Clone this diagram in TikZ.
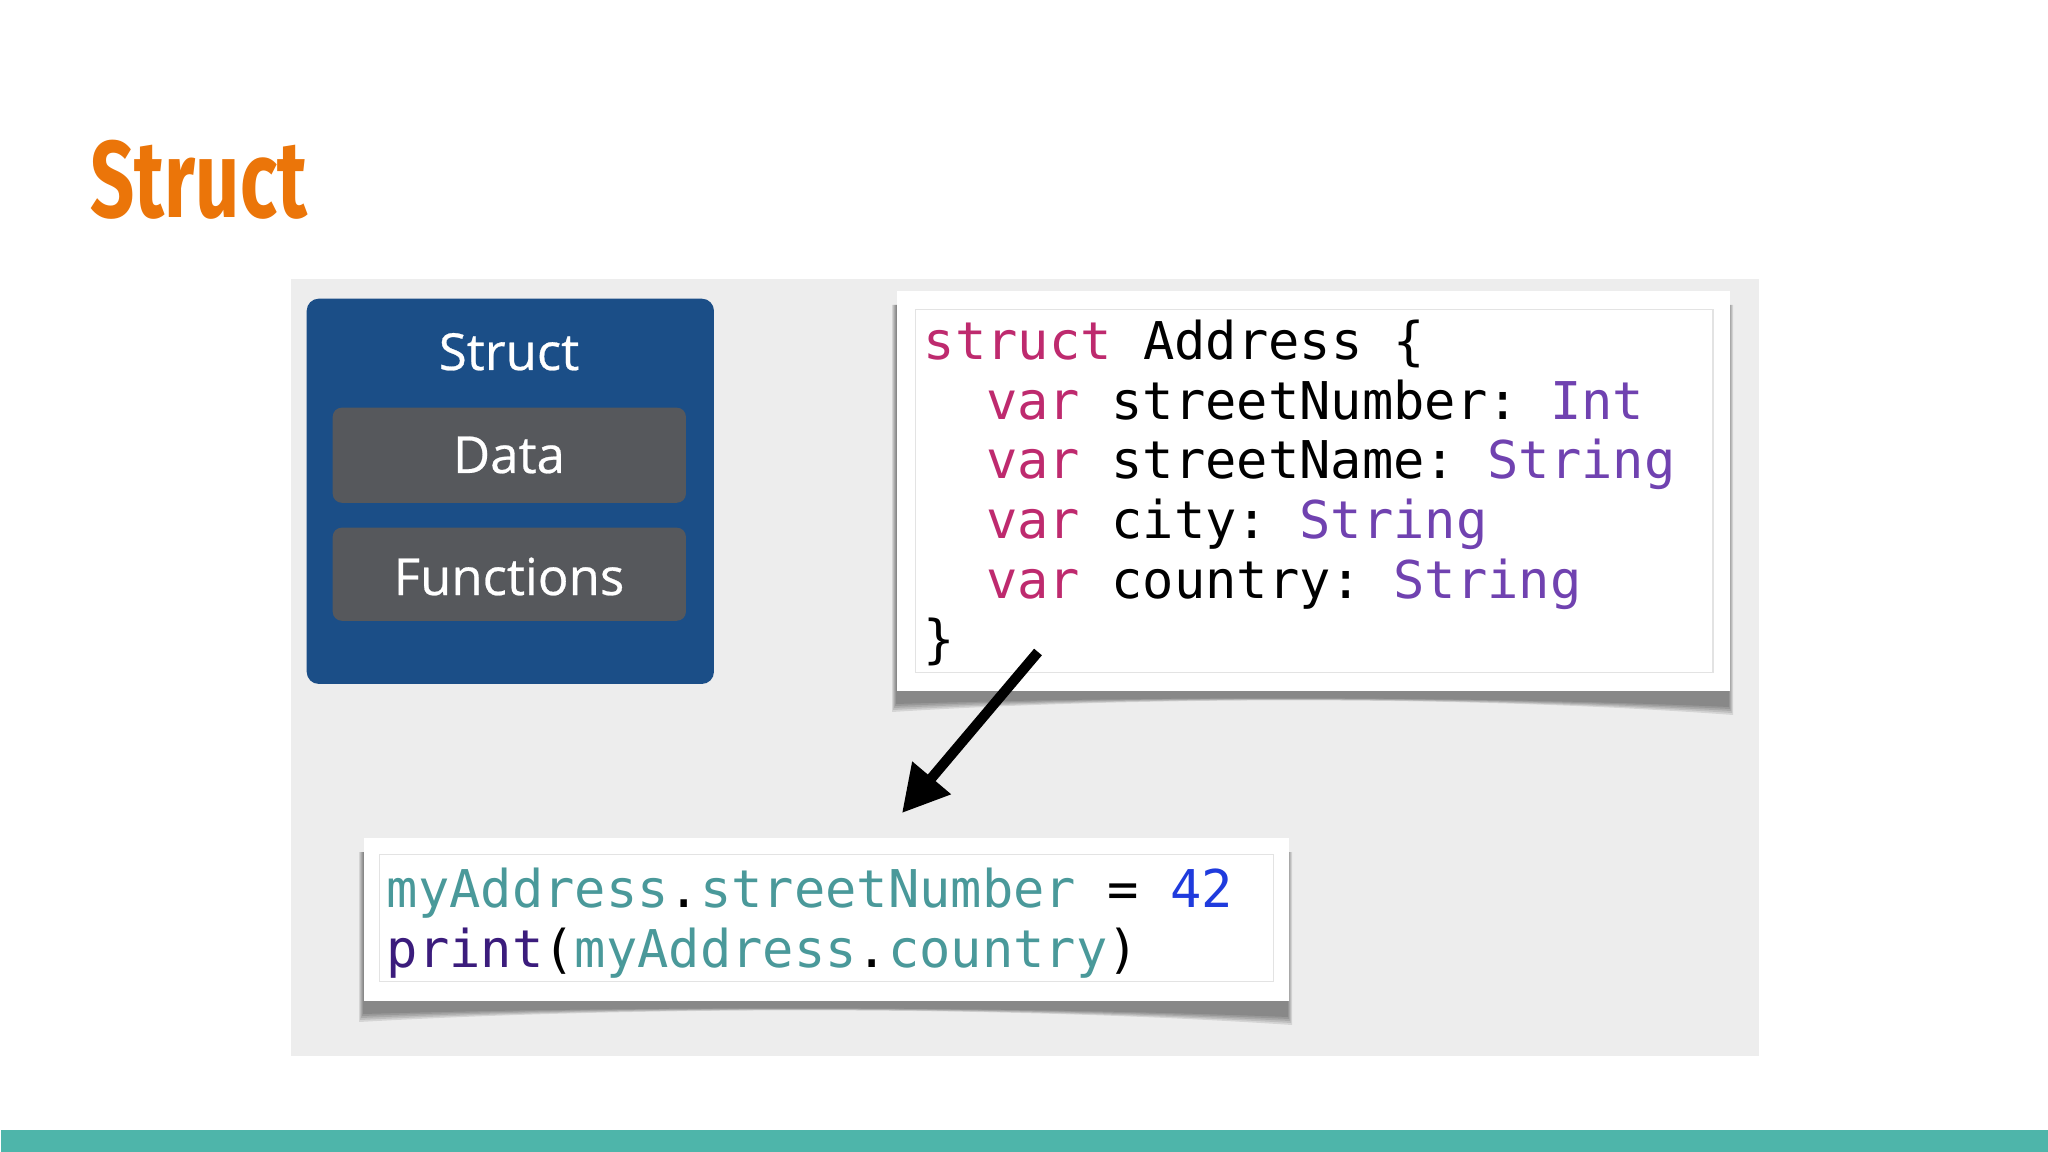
\documentclass[tikz,border=0pt]{standalone}
\usepackage{fontspec}
\usetikzlibrary{arrows.meta}
\frenchspacing
\newfontfamily\codefont{DejaVu Sans Mono}
\newfontfamily\boxfont[FakeBold=0.5]{Open Sans}
\newfontfamily\titlefont[FakeStretch=0.71]{Fira Sans}
\definecolor{titleorange}{HTML}{EB7509}
\definecolor{panelgray}{HTML}{EDEDED}
\definecolor{structblue}{HTML}{1B4E87}
\definecolor{slotgray}{HTML}{56585C}
\definecolor{kwpink}{HTML}{BE2A6E}
\definecolor{typepurple}{HTML}{7042B0}
\definecolor{idteal}{HTML}{4A999A}
\definecolor{numblue}{HTML}{1F3BDD}
\definecolor{fnpurple}{HTML}{3B1C7C}
\definecolor{bandteal}{HTML}{4EB5AA}
\definecolor{innerline}{HTML}{E3E3E3}
\newcommand\papershadow[4]{%
  \foreach \i in {0,1,2,3,4}{%
    \fill[black,opacity=0.10] ({#1-4+\i},{#2+15}) -- ({#1-4+\i},{#4+22-2*\i})
      .. controls ({#1+(#3-#1)*0.3},{#4+6}) and ({#1+(#3-#1)*0.7},{#4+6}) ..
      ({#3+4-\i},{#4+25-2*\i}) -- ({#3+4-\i},{#2+15}) -- cycle;}}
\tikzset{
  codeline/.style={anchor=base west, inner sep=0, font=\codefont\fontsize{14.8pt}{16.9pt}\selectfont},
  boxlabel/.style={anchor=base, inner sep=0, text=white, font=\boxfont\fontsize{14.5pt}{16pt}\selectfont},
  slot/.style={fill=slotgray, rounded corners=0.09cm, anchor=north west, inner sep=0},
  card/.style={fill=white, anchor=north west, inner sep=0},
  cardinner/.style={draw=innerline, line width=0.3pt, anchor=north west, inner sep=0},
  bigarrow/.style={line width=2.9pt, -{Triangle[length=0.46cm,width=0.48cm]}}
}
\begin{document}
\begin{tikzpicture}[x=0.01cm,y=-0.01cm]
\useasboundingbox (0,0) rectangle (2048,1152);
\fill[white] (0,0) rectangle (2048,1152);
% bottom band
\node[fill=bandteal, anchor=north west, inner sep=0, minimum width=20.48cm, minimum height=0.23cm] (band) at (0,1129) {};
% title
\node[anchor=base west, inner sep=0, text=titleorange, font=\titlefont\bfseries\fontsize{31pt}{31pt}\selectfont] (title) at (90,218) {Struct};
% panel
\node[fill=panelgray, anchor=north west, inner sep=0, minimum width=14.67cm, minimum height=7.77cm] (panel) at (290,278) {};
% struct box
\node[fill=structblue, rounded corners=0.12cm, anchor=north west, inner sep=0, minimum width=4.07cm, minimum height=3.85cm] (structbox) at (306,298) {};
\node[slot, minimum width=3.53cm, minimum height=0.95cm] (databox) at (332,407) {};
\node[slot, minimum width=3.53cm, minimum height=0.93cm] (funcbox) at (332,527) {};
\node[boxlabel] (structlabel) at (509,370) {Struct};
\node[boxlabel] (datalabel) at (509,473) {Data};
\node[boxlabel] (funclabel) at (509,595) {Functions};
% top card
\papershadow{896}{290}{1729}{690}
\node[card, minimum width=8.33cm, minimum height=4.00cm] (topcard) at (896,290) {};
\node[cardinner, minimum width=7.97cm, minimum height=3.63cm] (topinner) at (915,309) {};
\node[codeline] (c1) at (923,360) {{\color{kwpink}struct} Address \{};
\node[codeline] (c2) at (985.5,419.5) {{\color{kwpink}var} streetNumber: {\color{typepurple}Int}};
\node[codeline] (c3) at (985.5,479) {{\color{kwpink}var} streetName: {\color{typepurple}String}};
\node[codeline] (c4) at (985.5,538.5) {{\color{kwpink}var} city: {\color{typepurple}String}};
\node[codeline] (c5) at (985.5,598) {{\color{kwpink}var} country: {\color{typepurple}String}};
\node[codeline] (c6) at (923,657.5) {\}};
% lower card
\papershadow{363}{837}{1288}{1000}
\node[card, minimum width=9.25cm, minimum height=1.63cm] (lowcard) at (363,837) {};
\node[cardinner, minimum width=8.93cm, minimum height=1.27cm] (lowinner) at (379,854) {};
\node[codeline] (l1) at (386,907) {{\color{idteal}myAddress}.{\color{idteal}streetNumber} = {\color{numblue}42}};
\node[codeline] (l2) at (386,967) {{\color{fnpurple}print}({\color{idteal}myAddress}.{\color{idteal}country})};
% arrow
\coordinate (arrowtail) at (1038,652);
\coordinate (arrowtip) at (902,813);
\draw[bigarrow] (arrowtail) -- (arrowtip);
\end{tikzpicture}
\end{document}
